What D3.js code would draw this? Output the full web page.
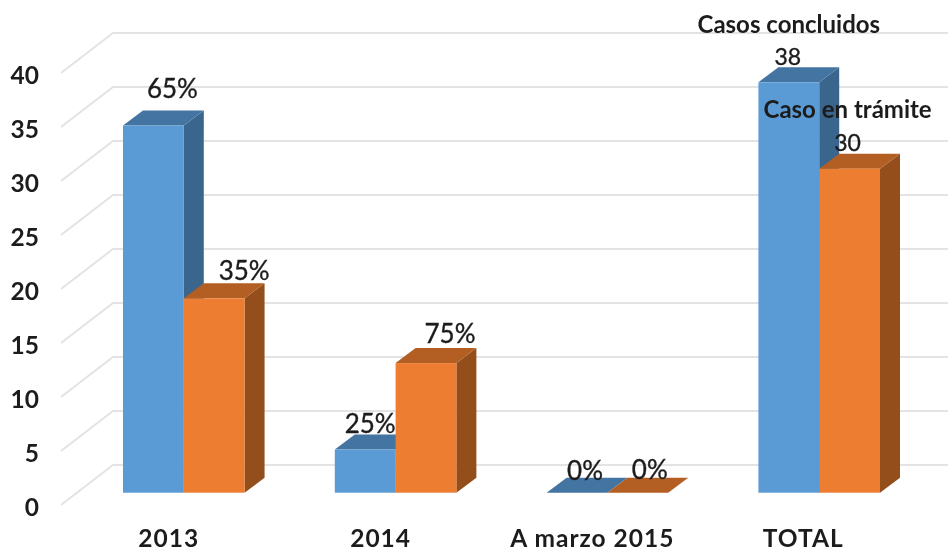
<!DOCTYPE html>
<html>
  <head>
    <title>Casos concluidos y en trámite</title>
    <script src="https://d3js.org/d3.v7.min.js"></script>
    <style>
      body { margin: 0; background: white; }
      svg { display: block; filter: blur(0.45px); }
      text { font-family: Lato, "Open Sans", sans-serif; fill: #1c1c1c; }
      .axis text { font-size: 24.5px; font-weight: 700; }
      .axis path, .axis line { display: none; }
      .cat { font-size: 24.5px; font-weight: 700; text-anchor: middle; letter-spacing: 1px; }
      .pct { font-size: 26px; text-anchor: middle; stroke: #1c1c1c; stroke-width: 0.35px; }
      .total { font-size: 23px; }
      .name { font-size: 24px; font-weight: 700; text-anchor: middle; }
    </style>
  </head>
  <body>
    <div id="chart"></div>
    <script>

    // values
    var categories = ["2013", "2014", "A marzo 2015", "TOTAL"];
    var concluidos = [34, 4, 0, 38];
    var enTramite = [18, 12, 0, 30];
    var concluidosLabels = ["65%", "25%", "0%", "38"];
    var tramiteLabels = ["35%", "75%", "0%", "30"];
    var yTicks = [0, 5, 10, 15, 20, 25, 30, 35, 40];

    var width = 948;
    var height = 552;

    // 3d look: bars are pushed back by this much, the walls by a bit more
    var depthX = 20, depthY = -15;
    var wallLeft = 61, wallRight = 113;

    var svg = d3.select("#chart").append("svg")
        .attr("width", width)
        .attr("height", height);

    var y = d3.scaleLinear().domain([0, 40]).range([492.7, 60.7]);
    var x = d3.scaleBand().domain(categories).range([123, 880]).paddingInner(0.426);
    var barW = x.bandwidth() / 2;

    // grid on the back wall and the side wall
    svg.append("g").selectAll("path")
        .data(yTicks)
        .enter().append("path")
          .attr("d", function(d) {
            return d3.line()([[wallLeft, y(d) + 12.3], [wallRight, y(d) - 27.7], [width, y(d) - 27.7]]);
          })
          .attr("fill", "none")
          .attr("stroke", "#e3e3e3")
          .attr("stroke-width", 2);

    // y axis labels
    svg.append("g")
        .attr("class", "axis")
        .attr("transform", "translate(48,15)")
        .call(d3.axisLeft(y).tickValues(yTicks).tickSize(0).tickPadding(9));

    function drawSeries(values, dx, front, top, side) {
      var g = svg.append("g").selectAll("g")
          .data(values)
          .enter().append("g")
            .attr("transform", function(d, i) { return "translate(" + (x(categories[i]) + dx) + ",0)"; });

      // side face
      g.filter(function(d) { return d > 0; }).append("path")
          .attr("d", function(d) {
            return d3.line()([[barW, y(d)], [barW + depthX, y(d) + depthY], [barW + depthX, y(0) + depthY], [barW, y(0)]]) + "Z";
          })
          .attr("fill", side);

      // top face
      g.append("path")
          .attr("d", function(d) {
            return d3.line()([[0, y(d)], [depthX, y(d) + depthY], [barW + depthX, y(d) + depthY], [barW, y(d)]]) + "Z";
          })
          .attr("fill", top);

      // front face
      g.append("rect")
          .attr("x", 0)
          .attr("y", function(d) { return y(d); })
          .attr("width", barW)
          .attr("height", function(d) { return y(0) - y(d); })
          .attr("fill", front);
    }

    drawSeries(concluidos, 0, "#5b9bd5", "#4474a1", "#3a668d");
    drawSeries(enTramite, barW, "#ed7d31", "#b35e22", "#934e1c");

    // data labels were dragged around by hand in the original
    var concluidosNudge = [[19, -28], [5, -17], [8, -13], [-1, -17]];
    var tramiteNudge = [[30, -18], [24, -20], [12, -14], [-2, -18]];

    function drawLabels(values, labels, nudge, dx) {
      svg.append("g").selectAll("text")
          .data(labels)
          .enter().append("text")
            .attr("class", function(d, i) { return i == 3 ? "pct total" : "pct"; })
            .attr("x", function(d, i) { return x(categories[i]) + dx + barW / 2 + nudge[i][0]; })
            .attr("y", function(d, i) { return y(values[i]) + nudge[i][1]; })
            .text(function(d) { return d; });
    }

    drawLabels(concluidos, concluidosLabels, concluidosNudge, 0);
    drawLabels(enTramite, tramiteLabels, tramiteNudge, barW);

    // series names sit above the TOTAL bars
    svg.append("text")
        .attr("class", "name")
        .attr("x", x("TOTAL") + barW / 2)
        .attr("y", y(38) - 49)
        .text("Casos concluidos");
    svg.append("text")
        .attr("class", "name")
        .attr("x", x("TOTAL") + barW * 1.5 - 2)
        .attr("y", y(30) - 51)
        .text("Caso en trámite");

    // category labels
    var catNudge = [-15, -15, -15, -16];
    svg.append("g").selectAll("text")
        .data(categories)
        .enter().append("text")
          .attr("class", "cat")
          .attr("x", function(d, i) { return x(d) + x.bandwidth() / 2 + catNudge[i]; })
          .attr("y", 547)
          .text(function(d) { return d; });

    </script>
  </body>
</html>
